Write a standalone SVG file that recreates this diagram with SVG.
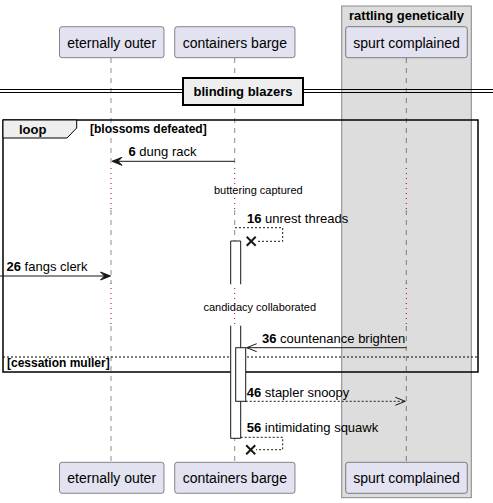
<svg xmlns="http://www.w3.org/2000/svg" width="493" height="503" viewBox="0 0 493 503">
<defs>
<style>
text{font-family:"Liberation Sans",Arial,sans-serif;fill:#000}
.pbox{fill:#E2E2F0;stroke:#181818;stroke-width:0.5}
.pname{font-size:14px;text-anchor:middle}
.life{stroke:#181818;stroke-width:0.5;stroke-dasharray:5,5;fill:none}
.delay{stroke:#A80036;stroke-width:1;stroke-dasharray:1,4;fill:none}
.msg{stroke:#181818;stroke-width:1;fill:none}
.dmsg{stroke:#181818;stroke-width:1;fill:none;stroke-dasharray:2,2}
.lbl{font-size:13px}
.num{font-weight:bold}
.act{fill:#FFFFFF;stroke:#181818;stroke-width:1}
.actside{fill:none;stroke:#181818;stroke-width:1}
.head{fill:#181818;stroke:#181818;stroke-width:1}
.x{stroke:#181818;stroke-width:2}
.small{font-size:11px}
.bold{font-weight:bold}
</style>
</defs>
<g id="box-rattling">
<rect x="341.7" y="6" width="129.6" height="491.7" fill="#DDDDDD" stroke="#888888" stroke-width="1"/>
<text x="406.5" y="19.5" font-size="13" font-weight="bold" text-anchor="middle">rattling genetically</text>
</g>
<g id="lifelines">
<line class="life" x1="111" y1="58" x2="111" y2="168"/>
<line class="delay" x1="111" y1="168" x2="111" y2="210"/>
<line class="life" x1="111" y1="210" x2="111" y2="283"/>
<line class="delay" x1="111" y1="283" x2="111" y2="326"/>
<line class="life" x1="111" y1="326" x2="111" y2="462"/>
<line class="life" x1="234.7" y1="58" x2="234.7" y2="168"/>
<line class="delay" x1="234.7" y1="168" x2="234.7" y2="210"/>
<line class="life" x1="234.7" y1="210" x2="234.7" y2="283"/>
<line class="delay" x1="234.7" y1="283" x2="234.7" y2="326"/>
<line class="life" x1="234.7" y1="326" x2="234.7" y2="462"/>
<line class="life" x1="406.3" y1="58" x2="406.3" y2="168"/>
<line class="delay" x1="406.3" y1="168" x2="406.3" y2="210"/>
<line class="life" x1="406.3" y1="210" x2="406.3" y2="283"/>
<line class="delay" x1="406.3" y1="283" x2="406.3" y2="326"/>
<line class="life" x1="406.3" y1="326" x2="406.3" y2="462"/>
</g>
<g id="eternally-outer">
<rect class="pbox" x="59.5" y="26.7" width="104.5" height="31" rx="2.5"/>
<text class="pname" x="111.7" y="47.5">eternally outer</text>
<rect class="pbox" x="59.5" y="462.3" width="104.5" height="31" rx="2.5"/>
<text class="pname" x="111.7" y="483">eternally outer</text>
</g>
<g id="containers-barge">
<rect class="pbox" x="174.7" y="26.7" width="120.3" height="31" rx="2.5"/>
<text class="pname" x="234.8" y="47.5">containers barge</text>
<rect class="pbox" x="174.7" y="462.3" width="120.3" height="31" rx="2.5"/>
<text class="pname" x="234.8" y="483">containers barge</text>
</g>
<g id="spurt-complained">
<rect class="pbox" x="345.7" y="26.7" width="121.6" height="31" rx="2.5"/>
<text class="pname" x="406.5" y="47.5">spurt complained</text>
<rect class="pbox" x="345.7" y="462.3" width="121.6" height="31" rx="2.5"/>
<text class="pname" x="406.5" y="483">spurt complained</text>
</g>
<g id="divider">
<line x1="0" y1="89.5" x2="493" y2="89.5" stroke="#000" stroke-width="1"/>
<line x1="0" y1="92.5" x2="493" y2="92.5" stroke="#000" stroke-width="1"/>
<rect x="183" y="78" width="120" height="27" fill="#EEEEEE" stroke="#000" stroke-width="2"/>
<text x="243" y="96" font-size="13" font-weight="bold" text-anchor="middle">blinding blazers</text>
</g>
<g id="loop">
<rect x="3" y="120" width="475" height="252" fill="none" stroke="#000" stroke-width="1.5"/>
<path d="M3,120 L76.7,120 L76.7,128 L67,138 L3,138 Z" fill="#EEEEEE" stroke="#000" stroke-width="1"/>
<text x="19" y="133.5" font-size="13" class="bold">loop</text>
<text x="90" y="133" font-size="12" class="bold">[blossoms defeated]</text>
<line x1="3" y1="357" x2="478" y2="357" stroke="#000" stroke-width="1" stroke-dasharray="2,2"/>
<text x="7" y="367" font-size="12" class="bold">[cessation muller]</text>
</g>
<g id="delays">
<text class="small" x="214" y="193.5">buttering captured</text>
<text class="small" x="203.5" y="310.5">candidacy collaborated</text>
</g>
<g id="activations">
<rect x="230.7" y="241" width="10" height="43.3" fill="#FFFFFF" stroke="none"/>
<path class="actside" d="M230.7,284.3 L230.7,241 L240.7,241 L240.7,284.3"/>
<rect x="230.7" y="325.7" width="10" height="112.6" fill="#FFFFFF" stroke="none"/>
<path class="actside" d="M230.7,325.7 L230.7,438.3 L240.7,438.3 L240.7,325.7"/>
<rect class="act" x="235.7" y="347.7" width="10" height="53.6"/>
</g>
<g id="connectors">
<line class="msg" x1="234.7" y1="161.3" x2="113" y2="161.3"/>
<polygon class="head" points="112,161.3 122,157.3 118,161.3 122,165.3"/>
<text class="lbl" x="128.5" y="156"><tspan class="num">6</tspan> dung rack</text>
<polyline class="dmsg" points="235,227.7 282.7,227.7 282.7,241.3 257,241.3"/>
<line class="x" x1="246.7" y1="236.8" x2="255.7" y2="245.8"/>
<line class="x" x1="246.7" y1="245.8" x2="255.7" y2="236.8"/>
<text class="lbl" x="247" y="222.5"><tspan class="num">16</tspan> unrest threads</text>
<line class="msg" x1="0" y1="276" x2="109" y2="276"/>
<polygon class="head" points="110.5,276 100.5,272 104.5,276 100.5,280"/>
<text class="lbl" x="6.5" y="271"><tspan class="num">26</tspan> fangs clerk</text>
<line class="msg" x1="406.3" y1="347.7" x2="246.5" y2="347.7"/>
<polyline class="msg" points="256.7,343.7 246.7,347.7 256.7,351.7"/>
<text class="lbl" x="262" y="343"><tspan class="num">36</tspan> countenance brighten</text>
<line class="dmsg" x1="245.7" y1="401.3" x2="405" y2="401.3"/>
<polyline class="msg" points="395.3,397.3 405.3,401.3 395.3,405.3"/>
<text class="lbl" x="246.7" y="397"><tspan class="num">46</tspan> stapler snoopy</text>
<polyline class="dmsg" points="240.7,437.3 282.7,437.3 282.7,449.7 256,449.7"/>
<line class="x" x1="246.2" y1="445.2" x2="255.2" y2="454.2"/>
<line class="x" x1="246.2" y1="454.2" x2="255.2" y2="445.2"/>
<text class="lbl" x="246.7" y="432"><tspan class="num">56</tspan> intimidating squawk</text>
</g>
</svg>
